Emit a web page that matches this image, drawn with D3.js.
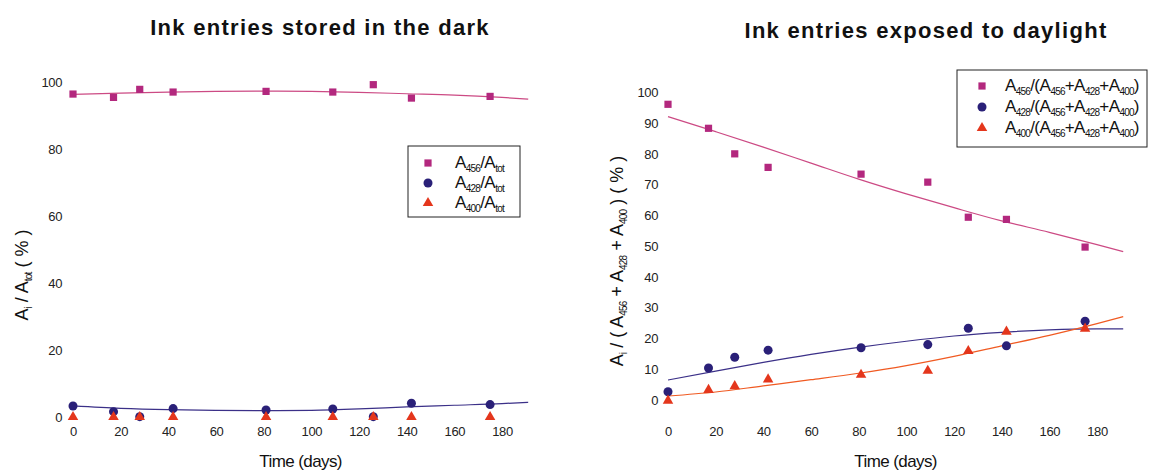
<!DOCTYPE html>
<html>
<head>
<meta charset="utf-8">
<script src="https://cdn.jsdelivr.net/npm/d3@7"></script>
<style>
  body { margin: 0; background: #fff; }
  text { font-family: "Liberation Sans", Arial, sans-serif; }
</style>
</head>
<body>
<div id="chart"></div>
<script>
// measured days
const days = [0, 17, 28, 42, 81, 109, 126, 142, 175];

// dark storage (A_i / A_tot, %)
const darkA456 = [96.4, 95.4, 97.8, 97.0, 97.2, 97.0, 99.2, 95.2, 95.7];
const darkA428 = [3.3, 1.6, 0.1, 2.5, 2.1, 2.4, 0.1, 4.1, 3.7];
const darkA400 = [0, 0, 0, 0, 0, 0, 0, 0, 0];

// daylight exposure
const lightA456 = [96.1, 88.3, 80.0, 75.6, 73.4, 70.8, 59.4, 58.7, 49.7];
const lightA428 = [2.7, 10.4, 13.9, 16.2, 17.0, 18.0, 23.3, 17.6, 25.6];
const lightA400 = [-0.2, 3.3, 4.5, 6.7, 8.2, 9.5, 15.9, 22.2, 23.2];

// trend lines
const fitDays = [0, 20, 40, 60, 80, 100, 120, 140, 160, 180, 191];
const darkFit456 = [96.3, 96.7, 97.0, 97.2, 97.3, 97.2, 96.9, 96.5, 96.1, 95.4, 94.9];
const darkFit428 = [3.3, 2.6, 2.2, 2.0, 1.9, 2.0, 2.4, 3.0, 3.5, 4.0, 4.4];
const lightFit456 = [92.1, 87.2, 82.2, 77.0, 71.8, 67.0, 62.5, 58.2, 54.5, 50.5, 48.2];
const lightFit428 = [6.5, 9.4, 12.2, 14.8, 17.1, 19.1, 20.8, 22.0, 22.8, 23.1, 23.1];
const lightFit400 = [1.3, 2.6, 4.6, 6.6, 8.7, 11.2, 14.2, 17.6, 21.0, 24.8, 27.1];

const xTicks = [0, 20, 40, 60, 80, 100, 120, 140, 160, 180];
const darkYTicks = [0, 20, 40, 60, 80, 100];
const lightYTicks = [0, 10, 20, 30, 40, 50, 60, 70, 80, 90, 100];

const col456 = "#b3287e", line456 = "#cc4a84";
const col428 = "#2a2078", line428 = "#3b3088";
const col400 = "#e4361c", line400 = "#f05a22";

const svg = d3.select("#chart").append("svg")
  .attr("width", 1149).attr("height", 471);

// text with subscripts: parts = [[str, isSub], ...]
function rich(t, parts, subSize, shift) {
  let prevSub = false;
  parts.forEach(([s, sub]) => {
    const ts = t.append("tspan").text(s);
    if (sub && !prevSub) ts.attr("dy", shift);
    if (!sub && prevSub) ts.attr("dy", -shift);
    if (sub) ts.attr("font-size", subSize).attr("letter-spacing", "-0.8");
    prevSub = sub;
  });
}

function panel(opt) {
  const g = svg.append("g");
  const x = d3.scaleLinear().domain([0, 180]).range(opt.xr);
  const y = d3.scaleLinear().domain([0, 100]).range(opt.yr);

  // axes without lines
  const xa = g.append("g").attr("transform", `translate(0,${opt.xAxisY})`)
    .call(d3.axisBottom(x).tickValues(xTicks).tickSize(0).tickPadding(0));
  const ya = g.append("g").attr("transform", `translate(${opt.yAxisX},0)`)
    .call(d3.axisLeft(y).tickValues(opt.yTicks).tickSize(0).tickPadding(0));
  [xa, ya].forEach(a => {
    a.select(".domain").remove();
    a.selectAll("text").attr("font-size", 13).attr("fill", "#222")
      .attr("letter-spacing", "-0.4")
      .style("font-family", '"Liberation Sans", Arial, sans-serif');
  });

  // trend lines
  const line = d3.line().x((d, i) => x(fitDays[i])).y(d => y(d)).curve(d3.curveMonotoneX);
  opt.fits.forEach(f => {
    g.append("path").datum(f.vals).attr("d", line)
      .attr("fill", "none").attr("stroke", f.color).attr("stroke-width", 1.2);
  });

  // markers
  opt.series.forEach(s => {
    g.selectAll(null).data(s.vals).enter().append("path")
      .attr("d", d3.symbol().type(s.shape).size(s.size))
      .attr("transform", (d, i) => `translate(${x(days[i])},${y(d)})`)
      .attr("fill", s.color);
  });

  // title
  g.append("text").attr("x", opt.titleX).attr("y", opt.titleY)
    .attr("text-anchor", "middle").attr("font-size", 22).attr("font-weight", "bold")
    .attr("letter-spacing", "1.3").attr("fill", "#111").text(opt.title);

  // x label
  g.append("text").attr("x", (opt.xr[0] + x(191)) / 2).attr("y", 467)
    .attr("text-anchor", "middle").attr("font-size", 17).attr("letter-spacing", "-0.6")
    .attr("fill", "#111").text("Time (days)");

  // y label
  const yl = g.append("text")
    .attr("transform", `translate(${opt.yLabelX},${opt.yLabelY}) rotate(-90)`)
    .attr("text-anchor", "middle").attr("font-size", 18).attr("fill", "#111");
  rich(yl, opt.yLabel, 10, 4);

  // legend
  const lg = g.append("g");
  lg.append("rect").attr("x", opt.leg.x).attr("y", opt.leg.y)
    .attr("width", opt.leg.w).attr("height", opt.leg.h)
    .attr("fill", "#fff").attr("stroke", "#222").attr("stroke-width", 1);
  opt.series.forEach((s, i) => {
    const cy = opt.leg.y + opt.leg.row0 + i * opt.leg.dy;
    lg.append("path").attr("d", d3.symbol().type(s.shape).size(s.size))
      .attr("transform", `translate(${opt.leg.mx},${cy})`).attr("fill", s.color);
    const t = lg.append("text").attr("x", opt.leg.tx).attr("y", cy + 5)
      .attr("font-size", 17).attr("letter-spacing", "-0.5").attr("fill", "#111");
    rich(t, s.label, 10, 4);
  });
}

const sq = d3.symbolSquare, ci = d3.symbolCircle, tr = d3.symbolTriangle;

panel({
  xr: [73, 502], yr: [417, 82], xAxisY: 427, yAxisX: 62,
  yTicks: darkYTicks,
  title: "Ink entries stored in the dark", titleX: 320, titleY: 35,
  yLabelX: 28, yLabelY: 275,
  yLabel: [["A", false], ["i", true], [" / A", false], ["tot", true], [" ( % )", false]],
  fits: [{vals: darkFit456, color: line456}, {vals: darkFit428, color: line428}],
  series: [
    {vals: darkA456, shape: sq, size: 52, color: col456, label: [["A", false], ["456", true], ["/A", false], ["tot", true]]},
    {vals: darkA428, shape: ci, size: 64, color: col428, label: [["A", false], ["428", true], ["/A", false], ["tot", true]]},
    {vals: darkA400, shape: tr, size: 48, color: col400, label: [["A", false], ["400", true], ["/A", false], ["tot", true]]}
  ],
  leg: {x: 408, y: 146, w: 112, h: 71, row0: 17, dy: 20, mx: 428, tx: 455}
});

const den = [["/(A", false], ["456", true], ["+A", false], ["428", true], ["+A", false], ["400", true], [")", false]];
panel({
  xr: [668, 1097], yr: [400, 92.3], xAxisY: 427, yAxisX: 658,
  yTicks: lightYTicks,
  title: "Ink entries exposed to daylight", titleX: 926, titleY: 38,
  yLabelX: 623, yLabelY: 261,
  yLabel: [["A", false], ["i", true], [" / ( A", false], ["456", true], [" + A", false], ["428", true], [" + A", false], ["400", true], [" ) ( % )", false]],
  fits: [{vals: lightFit456, color: line456}, {vals: lightFit428, color: line428}, {vals: lightFit400, color: line400}],
  series: [
    {vals: lightA456, shape: sq, size: 52, color: col456, label: [["A", false], ["456", true]].concat(den)},
    {vals: lightA428, shape: ci, size: 64, color: col428, label: [["A", false], ["428", true]].concat(den)},
    {vals: lightA400, shape: tr, size: 48, color: col400, label: [["A", false], ["400", true]].concat(den)}
  ],
  leg: {x: 957, y: 70, w: 190, h: 77, row0: 16, dy: 21, mx: 982, tx: 1005}
});
</script>
</body>
</html>
